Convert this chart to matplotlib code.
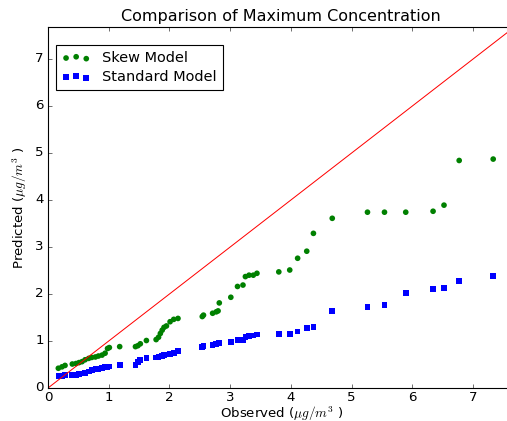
import numpy as np
import matplotlib
matplotlib.use("Agg")
import matplotlib.pyplot as plt

# observed max concentration (shared by both models)
observed = [0.17, 0.23, 0.28, 0.40, 0.46, 0.51, 0.56, 0.61, 0.67, 0.72, 0.78, 0.83, 0.89, 0.94,
            0.98, 1.01, 1.18, 1.44, 1.48, 1.52, 1.62, 1.78, 1.82, 1.85, 1.88, 1.91, 1.95, 2.01,
            2.07, 2.14, 2.54, 2.56, 2.71, 2.77, 2.80, 2.82, 3.01, 3.12, 3.21, 3.25, 3.31, 3.38,
            3.44, 3.80, 3.98, 4.11, 4.26, 4.37, 4.68, 5.26, 5.54, 5.89, 6.34, 6.52, 6.77, 7.33]
skew = [0.42, 0.45, 0.48, 0.51, 0.52, 0.54, 0.56, 0.60, 0.63, 0.65, 0.66, 0.68, 0.70, 0.74,
        0.84, 0.86, 0.88, 0.88, 0.90, 0.94, 1.01, 1.03, 1.08, 1.16, 1.23, 1.29, 1.32, 1.41,
        1.46, 1.48, 1.52, 1.55, 1.59, 1.62, 1.64, 1.81, 1.93, 2.16, 2.19, 2.37, 2.40, 2.40,
        2.44, 2.47, 2.51, 2.76, 2.91, 3.29, 3.61, 3.74, 3.74, 3.74, 3.76, 3.89, 4.84, 4.87]
standard = [0.25, 0.26, 0.27, 0.27, 0.28, 0.30, 0.31, 0.32, 0.35, 0.38, 0.40, 0.41, 0.43, 0.44,
            0.45, 0.46, 0.49, 0.49, 0.56, 0.60, 0.64, 0.65, 0.66, 0.67, 0.68, 0.70, 0.71, 0.73,
            0.75, 0.78, 0.87, 0.90, 0.92, 0.93, 0.95, 0.96, 0.98, 1.02, 1.02, 1.09, 1.11, 1.12,
            1.14, 1.15, 1.15, 1.20, 1.28, 1.30, 1.64, 1.72, 1.77, 2.02, 2.10, 2.13, 2.27, 2.38]
lim = 7.68

plt.style.use("classic")
fig = plt.figure(figsize=(507 / 80, 421 / 80), dpi=80, facecolor="white")
ax = fig.add_axes([0.0947, 0.0784, 0.92, 0.8575])

ax.plot([0, lim], [0, lim], color="red", lw=0.9)
ax.scatter(observed, skew, c="green", s=26, edgecolors="none", label="Skew Model")
ax.scatter(observed, standard, c="blue", s=26, marker="s", edgecolors="none", label="Standard Model")

ax.set_xlim(0, lim)
ax.set_ylim(0, lim)
ax.set_xticks(range(0, 8))
ax.set_yticks(range(0, 8))
ax.tick_params(axis="x", pad=3)
ax.set_title("Comparison of Maximum Concentration")
ax.set_xlabel(r"Observed ($\mu g/m^3$ )", labelpad=0)
ax.set_ylabel(r"Predicted ($\mu g/m^3$ )")
ax.legend(loc="upper left", fontsize=13, bbox_to_anchor=(0.017, 0.95),
          borderaxespad=0, labelspacing=0.35)

fig.savefig("out.png", dpi=80, facecolor="white")
